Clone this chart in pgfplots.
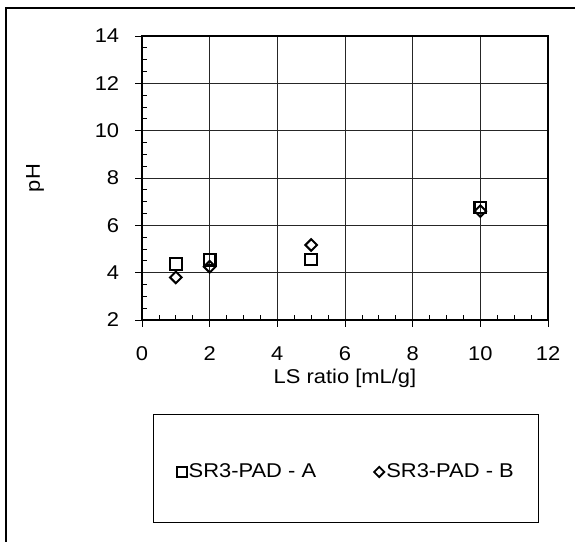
\documentclass[border=0pt]{standalone}
\usepackage{pgfplots}
\pgfplotsset{compat=1.18}
\usepackage{fontspec}
\setmainfont{Liberation Sans}[FakeStretch=1.1]
\newcommand{\bigf}{\fontsize{20}{24}\selectfont}
\begin{document}
\bigf
\begin{tikzpicture}[x=1bp,y=1bp,font=\bigf]
\path[use as bounding box] (0,0) rectangle (575,542);
\draw[line width=1.2bp] (6,0) -- (6,534) -- (575,534);
\draw[line width=1bp] (153,127) rectangle (538,19);
\begin{axis}[
  at={(142bp,222bp)}, anchor=south west,
  scale only axis, width=406bp, height=284bp,
  xmin=0, xmax=12, ymin=2, ymax=14,
  xtick={0,2,...,12}, ytick={2,4,...,14},
  minor x tick num=3, minor y tick num=3,
  tick pos=left,
  tick align=inside,
  major tick length=-7bp, minor tick length=5bp,
  every tick/.style={black, line width=0.8bp},
  grid=major,
  major grid style={black!85, line width=0.9bp},
  axis line style={line width=1.1bp},
  /pgf/number format/assume math mode=true,
  tick label style={font=\bigf},
  xticklabel style={font=\bigf, anchor=center, yshift=-34bp},
  yticklabel style={font=\bigf, anchor=east, xshift=-16bp},
  xlabel={LS ratio [mL/g]},
  ylabel={pH},
  xlabel style={font=\bigf, at={(axis description cs:0.5,-0.204)}, anchor=center},
  ylabel style={font=\bigf, at={(axis description cs:-0.2635,0.5)}, anchor=center},
  legend columns=2,
  legend style={draw=none, fill=none, at={(0.503,-0.535)}, anchor=center,
    font=\bigf,
    /tikz/every even column/.append style={column sep=56bp}},
]
\addplot[only marks, mark=square, mark size=5.8bp, line width=2.2bp, black,
  legend image code/.code={\draw[mark size=5bp, line width=1.9bp] plot coordinates {(0.2cm,0cm)};}]
  coordinates {(1,4.37) (2,4.55) (5,4.56) (10,6.75)};
\addlegendentry{SR3-PAD - A}
\addplot[only marks, mark=square, mark options={rotate=45}, mark size=4.1bp, line width=2bp, black,
  legend image code/.code={\draw[mark size=3.6bp, line width=1.8bp] plot coordinates {(0.2cm,0cm)};}]
  coordinates {(1,3.80) (2,4.25) (5,5.17) (10,6.60)};
\addlegendentry{SR3-PAD - B}
\end{axis}
\end{tikzpicture}
\end{document}
